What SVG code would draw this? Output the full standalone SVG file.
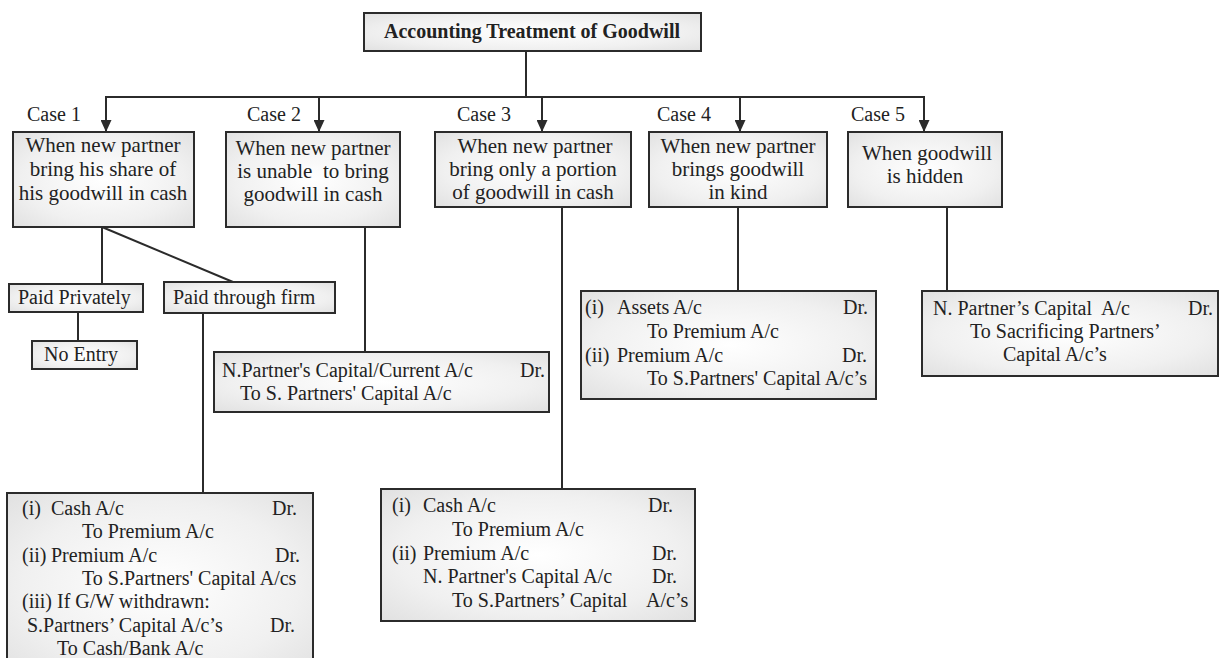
<svg xmlns="http://www.w3.org/2000/svg" width="1220" height="658" viewBox="0 0 1220 658">
<defs>
<radialGradient id="g" cx="50%" cy="50%" r="75%">
<stop offset="0" stop-color="#ffffff"/>
<stop offset="0.6" stop-color="#f0f0f0"/>
<stop offset="1" stop-color="#dedede"/>
</radialGradient>
<marker id="ah" markerWidth="12" markerHeight="11" refX="12" refY="5.5" orient="auto" markerUnits="userSpaceOnUse">
<path d="M0,0 L12,5.5 L0,11 z" fill="#2b2b2b"/>
</marker>
<style>
.box{fill:url(#g);stroke:#2b2b2b;stroke-width:2}
.ln{stroke:#2b2b2b;stroke-width:2;fill:none}
.ar{stroke:#2b2b2b;stroke-width:2;fill:none;marker-end:url(#ah)}
text{font-family:"Liberation Serif","Times New Roman",serif;font-size:20px;fill:#222}
.c{text-anchor:middle;font-size:21px}
.b{font-weight:bold;text-anchor:middle;font-size:20px}
.r{font-size:20px}
</style>
</defs>
<rect width="1220" height="658" fill="#ffffff"/>

<g id="connectors">
<path class="ln" d="M526,51 V97"/>
<path class="ln" d="M105,97 H925"/>
<path class="ar" d="M106,97 V132"/>
<path class="ar" d="M319,97 V132"/>
<path class="ar" d="M542,97 V132"/>
<path class="ar" d="M740,97 V132"/>
<path class="ar" d="M924,97 V132"/>
<path class="ln" d="M102,227 V284"/>
<path class="ln" d="M102,227 L233,282"/>
<path class="ln" d="M78,312 V341"/>
<path class="ln" d="M203,313 V493"/>
<path class="ln" d="M365,227 V352"/>
<path class="ln" d="M562,207 V489"/>
<path class="ln" d="M738,207 V291"/>
<path class="ln" d="M947,207 V291"/>
</g>

<g id="title">
<rect class="box" x="364" y="13" width="337" height="38"/>
<text class="b" x="532" y="38">Accounting Treatment of Goodwill</text>
</g>

<g id="case1-label"><text x="27" y="121">Case 1</text></g>
<g id="case2-label"><text x="247" y="121">Case 2</text></g>
<g id="case3-label"><text x="457" y="121">Case 3</text></g>
<g id="case4-label"><text x="657" y="121">Case 4</text></g>
<g id="case5-label"><text x="851" y="121">Case 5</text></g>

<g id="case1">
<rect class="box" x="13" y="132" width="181" height="95"/>
<text class="c" x="103" y="152">When new partner</text>
<text class="c" x="103" y="176">bring his share of</text>
<text class="c" x="103" y="200">his goodwill in cash</text>
</g>

<g id="case2">
<rect class="box" x="226" y="132" width="174" height="95"/>
<text class="c" x="313" y="155">When new partner</text>
<text class="c" x="313" y="178" xml:space="preserve">is unable  to bring</text>
<text class="c" x="313" y="201">goodwill in cash</text>
</g>

<g id="case3">
<rect class="box" x="435" y="132" width="196" height="75"/>
<text class="c" x="535" y="153">When new partner</text>
<text class="c" x="533" y="176">bring only a portion</text>
<text class="c" x="533" y="199">of goodwill in cash</text>
</g>

<g id="case4">
<rect class="box" x="649" y="132" width="178" height="75"/>
<text class="c" x="738" y="153">When new partner</text>
<text class="c" x="738" y="176">brings goodwill</text>
<text class="c" x="738" y="199">in kind</text>
</g>

<g id="case5">
<rect class="box" x="848" y="132" width="154" height="75"/>
<text class="c" x="927" y="160">When goodwill</text>
<text class="c" x="925" y="183">is hidden</text>
</g>

<g id="paid-privately">
<rect class="box" x="9" y="284" width="134" height="28"/>
<text class="r" x="18" y="304">Paid Privately</text>
</g>

<g id="paid-through-firm">
<rect class="box" x="164" y="282" width="171" height="31"/>
<text class="r" x="173" y="304">Paid through firm</text>
</g>

<g id="no-entry">
<rect class="box" x="32" y="341" width="105" height="28"/>
<text class="r" x="44" y="361">No Entry</text>
</g>

<g id="case2-entry">
<rect class="box" x="214" y="352" width="335" height="60"/>
<text x="222" y="377">N.Partner's Capital/Current A/c</text>
<text x="520" y="377">Dr.</text>
<text x="240" y="400">To S. Partners' Capital A/c</text>
</g>

<g id="case4-entry">
<rect class="box" x="581" y="291" width="295" height="108"/>
<text x="585" y="314">(i)</text>
<text x="617" y="314">Assets A/c</text>
<text x="843" y="314">Dr.</text>
<text x="647" y="338">To Premium A/c</text>
<text x="585" y="362">(ii)</text>
<text x="617" y="362">Premium A/c</text>
<text x="842" y="362">Dr.</text>
<text x="647" y="385">To S.Partners' Capital A/c’s</text>
</g>

<g id="case5-entry">
<rect class="box" x="922" y="291" width="296" height="85"/>
<text x="933" y="315" xml:space="preserve">N. Partner’s Capital  A/c</text>
<text x="1188" y="315">Dr.</text>
<text x="970" y="338">To Sacrificing Partners’</text>
<text x="1003" y="361">Capital A/c’s</text>
</g>

<g id="case3-entry">
<rect class="box" x="381" y="489" width="314" height="132"/>
<text x="392" y="512">(i)</text>
<text x="423" y="512">Cash A/c</text>
<text x="648" y="512">Dr.</text>
<text x="452" y="536">To Premium A/c</text>
<text x="392" y="560">(ii)</text>
<text x="423" y="560">Premium A/c</text>
<text x="652" y="560">Dr.</text>
<text x="423" y="583">N. Partner's Capital A/c</text>
<text x="652" y="583">Dr.</text>
<text x="452" y="607">To S.Partners’ Capital</text>
<text x="646" y="607">A/c’s</text>
</g>

<g id="case1-entry">
<rect class="box" x="7" y="493" width="306" height="185"/>
<text x="22" y="515">(i)</text>
<text x="51" y="515">Cash A/c</text>
<text x="272" y="515">Dr.</text>
<text x="82" y="538">To Premium A/c</text>
<text x="22" y="562">(ii)</text>
<text x="51" y="562">Premium A/c</text>
<text x="275" y="562">Dr.</text>
<text x="82" y="585">To S.Partners' Capital A/cs</text>
<text x="22" y="608">(iii) If G/W withdrawn:</text>
<text x="27" y="632">S.Partners’ Capital A/c’s</text>
<text x="270" y="632">Dr.</text>
<text x="57" y="655">To Cash/Bank A/c</text>
</g>
</svg>
